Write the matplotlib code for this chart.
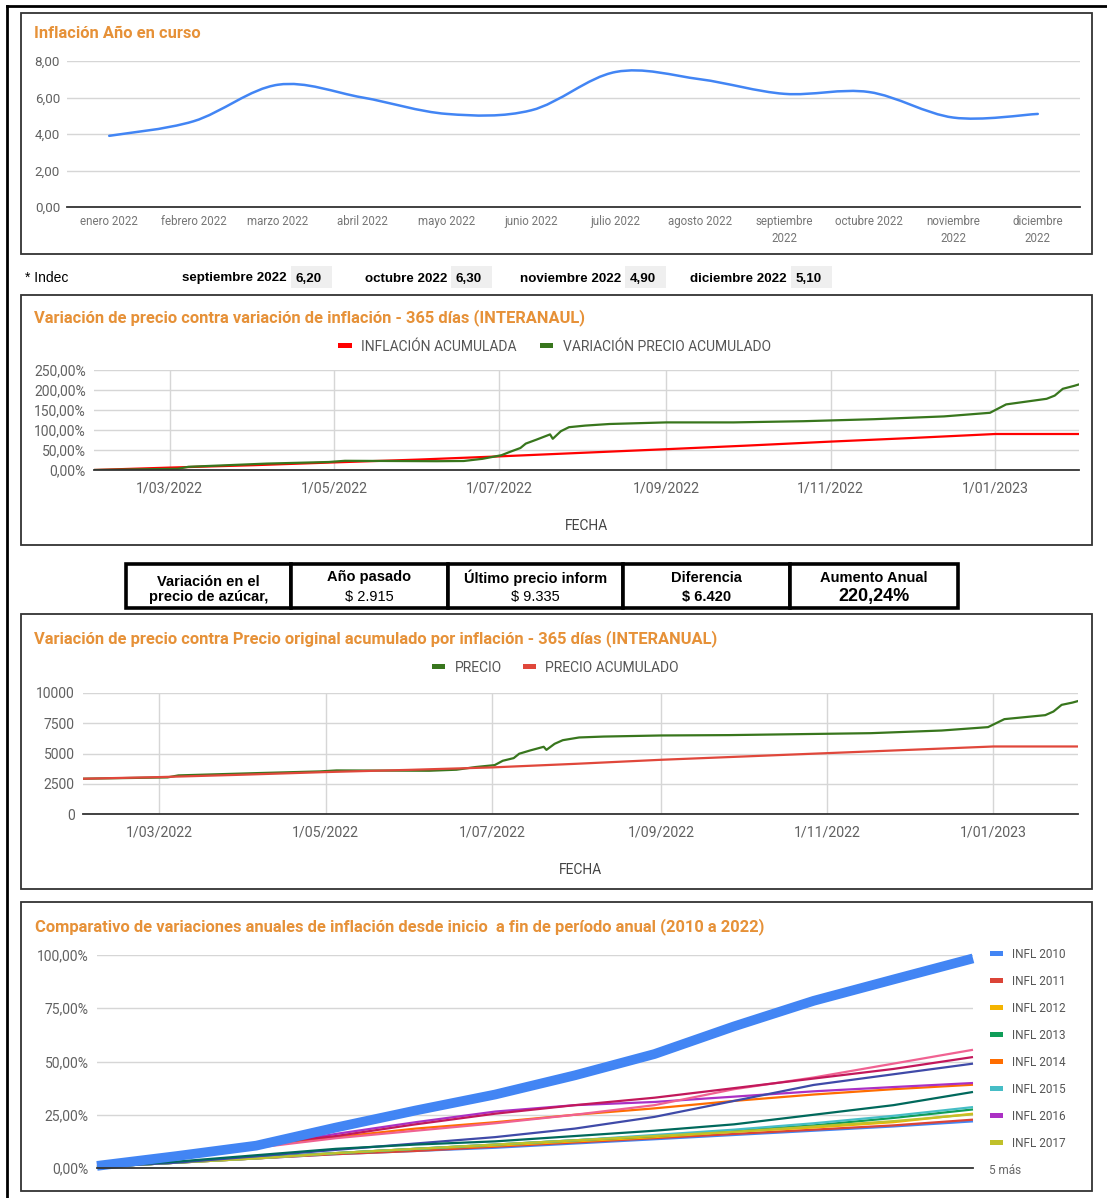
import numpy as np
import matplotlib
matplotlib.use("Agg")
import matplotlib.pyplot as plt
from matplotlib.patches import Rectangle, PathPatch
from matplotlib.path import Path

plt.rcParams['font.family'] = ['Roboto', 'DejaVu Sans']

W, H = 1107, 1198

# ---------------- datos ----------------
# inflacion mensual 2022
meses = ['enero 2022', 'febrero 2022', 'marzo 2022', 'abril 2022', 'mayo 2022', 'junio 2022',
         'julio 2022', 'agosto 2022', 'septiembre\n2022', 'octubre 2022', 'noviembre\n2022',
         'diciembre\n2022']
inflacion_mensual = [3.9, 4.7, 6.7, 6.0, 5.1, 5.3, 7.4, 7.0, 6.2, 6.3, 4.9, 5.1]
ticks_mensual = [0, 2, 4, 6, 8]

# fila Indec
indec_meses = ['septiembre 2022', 'octubre 2022', 'noviembre 2022', 'diciembre 2022']
indec_valores = ['6,20', '6,30', '4,90', '5,10']

# inflacion acumulada (inicio de cada mes)
fechas_mes = ['2022-02-01', '2022-03-01', '2022-04-01', '2022-05-01', '2022-06-01', '2022-07-01',
              '2022-08-01', '2022-09-01', '2022-10-01', '2022-11-01', '2022-12-01', '2023-01-01',
              '2023-02-01']
inflacion_acum = [0, 6, 12, 19, 26, 34, 43, 52, 61, 71, 80, 90, 90]
precio_acum = [2915, 3050, 3250, 3465, 3650, 3850, 4150, 4480, 4750, 5030, 5300, 5580, 5580]

# precio relevado
fechas_precio = ['2022-02-01', '2022-03-04', '2022-03-08', '2022-04-06', '2022-04-29', '2022-05-05',
                 '2022-06-08', '2022-06-18', '2022-06-25', '2022-07-02', '2022-07-05', '2022-07-09',
                 '2022-07-11', '2022-07-15', '2022-07-20', '2022-07-21', '2022-07-24', '2022-07-27',
                 '2022-08-02', '2022-08-11', '2022-09-01', '2022-09-26', '2022-10-22', '2022-11-17',
                 '2022-12-13', '2022-12-30', '2023-01-05', '2023-01-20', '2023-01-23', '2023-01-26',
                 '2023-01-30', '2023-02-01']
variacion_precio = [0, 3, 8, 16, 20, 23, 22, 22.5, 28, 37, 45, 55, 66, 76, 89, 78, 97, 107,
                    111, 115, 119, 119, 122, 127, 134, 143, 164, 178, 186, 203, 210, 214]
precio = [2915, 3025, 3190, 3380, 3520, 3600, 3575, 3660, 3880, 4040, 4400, 4620, 4980, 5250,
          5555, 5300, 5800, 6100, 6325, 6400, 6490, 6520, 6600, 6680, 6900, 7180, 7840, 8170,
          8470, 9020, 9210, 9335]

fecha_ticks = ['2022-03-01', '2022-05-01', '2022-07-01', '2022-09-01', '2022-11-01', '2023-01-01']
fecha_labels = ['1/03/2022', '1/05/2022', '1/07/2022', '1/09/2022', '1/11/2022', '1/01/2023']
ticks_pct = [0, 50, 100, 150, 200, 250]
ticks_precio = [0, 2500, 5000, 7500, 10000]

# tabla resumen
tabla_titulos = ['Variación en el\nprecio de azúcar,', 'Año pasado', 'Último precio inform',
                 'Diferencia', 'Aumento Anual']
tabla_valores = ['', '$ 2.915', '$ 9.335', '$ 6.420', '220,24%']

# comparativo anual (acumulado mes a mes)
infl_2010 = [0.5, 2.5, 4.5, 6.5, 8.0, 9.5, 11.5, 13.5, 15.5, 17.5, 19.5, 21.9]
infl_2011 = [0.5, 2.5, 4.5, 6.5, 8.0, 10.0, 12.0, 14.0, 16.0, 18.0, 20.0, 22.7]
infl_2012 = [0.5, 2.5, 4.5, 7.0, 9.0, 10.5, 12.5, 14.5, 17.0, 19.0, 21.5, 25.5]
infl_2013 = [0.5, 2.5, 5.0, 7.0, 9.0, 11.0, 13.0, 15.0, 17.5, 20.0, 23.5, 27.5]
infl_2014 = [1.0, 5.0, 10.0, 14.5, 18.5, 21.5, 25.0, 28.0, 31.5, 34.5, 37.0, 39.1]
infl_2015 = [0.5, 2.5, 4.5, 7.0, 9.0, 11.0, 13.0, 15.5, 18.0, 21.0, 24.5, 28.6]
infl_2016 = [1.0, 5.0, 10.0, 16.0, 21.5, 26.5, 29.5, 31.0, 33.5, 36.0, 38.0, 39.9]
infl_2017 = [0.5, 2.5, 4.5, 7.0, 9.0, 11.0, 13.0, 15.0, 17.0, 19.5, 22.0, 25.2]
infl_2018 = [0.5, 2.5, 5.5, 8.5, 11.5, 14.5, 18.5, 24.0, 31.5, 39.0, 44.0, 49.0]
infl_2019 = [2.0, 5.5, 9.5, 14.0, 17.5, 21.0, 25.0, 29.5, 37.0, 42.5, 49.0, 55.5]
infl_2020 = [0.5, 3.0, 6.0, 9.0, 11.0, 12.5, 15.0, 17.5, 20.5, 25.0, 29.5, 35.7]
infl_2021 = [2.0, 6.0, 11.0, 15.0, 20.5, 25.5, 29.5, 33.0, 37.5, 42.0, 46.5, 52.1]
infl_2022 = [1.0, 5.6, 10.5, 19.0, 27.0, 34.5, 43.5, 53.5, 66.5, 78.5, 88.5, 98.4]
anios = ['INFL 2010', 'INFL 2011', 'INFL 2012', 'INFL 2013', 'INFL 2014', 'INFL 2015',
         'INFL 2016', 'INFL 2017', 'INFL 2018', 'INFL 2019', 'INFL 2020', 'INFL 2021', 'INFL 2022']
colores_anios = ['#4285F4', '#DB4437', '#F4B400', '#0F9D58', '#FF6D00', '#46BDC6', '#AB30C4',
                 '#C0C02A', '#3F4AA8', '#F06292', '#00695C', '#C2185B', '#4285F4']
ticks_anual = [0, 25, 50, 75, 100]

NARANJA = '#E69138'
GRIS_TXT = '#616161'
GRILLA = '#D6D6D6'


# ---------------- utilidades en pixeles ----------------
fig = plt.figure(figsize=(W / 100, H / 100), dpi=100)


def ejes(x0, y0, x1, y1):
    return fig.add_axes([x0 / W, 1 - y1 / H, (x1 - x0) / W, (y1 - y0) / H])


def texto(x, y, s, **kw):
    kw.setdefault('va', 'center')
    if kw['va'] == 'center':
        y = y + 1.5
    return fig.text(x / W, 1 - y / H, s, **kw)


def titulo(x, y, s):
    # y = centro visual de las mayusculas
    fig.text(x / W, 1 - (y + 5.5) / H, s, va='baseline', color=NARANJA, fontsize=11.9,
             fontweight='bold')


def caja(x0, y0, x1, y1, **kw):
    fig.add_artist(Rectangle((x0 / W, 1 - y1 / H), (x1 - x0) / W, (y1 - y0) / H,
                             transform=fig.transFigure, **kw))


def linea(x0, y0, x1, y1, **kw):
    fig.add_artist(plt.Line2D([x0 / W, x1 / W], [1 - y0 / H, 1 - y1 / H],
                              transform=fig.transFigure, **kw))


def panel(y0, y1):
    caja(21, y0, 1092, y1, fill=False, edgecolor='#333333', linewidth=1.3)


def estilo_ejes(ax, grilla_x=False):
    for lado in ['top', 'right', 'left']:
        ax.spines[lado].set_visible(False)
    ax.spines['bottom'].set_color('#333333')
    ax.spines['bottom'].set_linewidth(1.3)
    ax.spines['bottom'].set_zorder(5)
    ax.grid(True, axis='y', color=GRILLA, linewidth=1)
    if grilla_x:
        ax.grid(True, axis='x', color=GRILLA, linewidth=1)
    ax.set_axisbelow(True)
    ax.tick_params(length=0, labelcolor=GRIS_TXT)


def coma(v, dec=2, suf=''):
    return f'{v:.{dec}f}'.replace('.', ',') + suf


def curva_suave(xs, ys):
    pts = np.column_stack([xs, ys]).astype(float)
    verts = [pts[0]]
    codes = [Path.MOVETO]
    n = len(pts)
    for i in range(n - 1):
        p0 = pts[i - 1] if i > 0 else pts[i]
        p1 = pts[i]
        p2 = pts[i + 1]
        p3 = pts[i + 2] if i + 2 < n else pts[i + 1]
        verts += [p1 + (p2 - p0) / 6, p2 - (p3 - p1) / 6, p2]
        codes += [Path.CURVE4] * 3
    return Path(verts, codes)


# marco exterior
linea(7, 6, W, 6, color='black', linewidth=2)
linea(7, 6, 7, H, color='black', linewidth=2)

# ---------------- panel 1: inflacion mensual ----------------
panel(13, 254)
titulo(34, 33, 'Inflación Año en curso')
ax1 = ejes(67, 61, 1080, 207)
estilo_ejes(ax1)
x_mes = np.arange(len(meses))
ax1.add_patch(PathPatch(curva_suave(x_mes, inflacion_mensual), fill=False,
                        edgecolor='#4285F4', linewidth=1.8, capstyle='round'))
ax1.set_xlim(-0.5, len(meses) - 0.5)
ax1.set_ylim(0, 8)
ax1.set_yticks(ticks_mensual)
ax1.set_yticklabels([coma(v) for v in ticks_mensual], fontsize=9.6)
ax1.set_xticks(x_mes)
ax1.set_xticklabels(meses, fontsize=8.3, color='#757575', linespacing=1.35)
ax1.tick_params(axis='y', pad=5)
ax1.tick_params(axis='x', pad=6)

# fila Indec
fam_arial = ['Liberation Sans', 'DejaVu Sans']
texto(25, 277, '* Indec', fontsize=10, family=fam_arial)
etiq_x = [287, 447, 621, 787]
for mes, val, xe in zip(indec_meses, indec_valores, etiq_x):
    texto(xe, 277, mes, ha='right', fontsize=9.6, fontweight='bold', family=fam_arial)
    caja(xe + 4, 266, xe + 45, 288, facecolor='#EFEFEF', edgecolor='none')
    texto(xe + 9, 277, val, fontsize=9.6, fontweight='bold', family=fam_arial)

# ---------------- panel 2: variacion porcentual ----------------
panel(295, 545)
titulo(34, 317, 'Variación de precio contra variación de inflación - 365 días (INTERANAUL)')
caja(338, 343, 352, 348, facecolor='#FF0000', edgecolor='none')
texto(361, 345, 'INFLACIÓN ACUMULADA', color='#555555', fontsize=10)
caja(540, 343, 553, 348, facecolor='#38761D', edgecolor='none')
texto(563, 345, 'VARIACIÓN PRECIO ACUMULADO', color='#555555', fontsize=10)

ax2 = ejes(94, 370, 1079, 470)
estilo_ejes(ax2, grilla_x=True)
ax2.plot(np.array(fechas_mes, dtype='datetime64[D]'), inflacion_acum, color='#FF0000',
         linewidth=1.6)
ax2.plot(np.array(fechas_precio, dtype='datetime64[D]'), variacion_precio, color='#38761D',
         linewidth=1.6)
ax2.set_xlim(np.datetime64('2022-02-01'), np.datetime64('2023-02-01'))
ax2.set_ylim(0, 250)
ax2.set_yticks(ticks_pct)
ax2.set_yticklabels([coma(v, 2, '%') for v in ticks_pct], fontsize=10)
ax2.set_xticks(np.array(fecha_ticks, dtype='datetime64[D]'))
ax2.set_xticklabels(fecha_labels, fontsize=10.2)
ax2.tick_params(axis='y', pad=6)
ax2.tick_params(axis='x', pad=8.5)
texto(586, 525, 'FECHA', ha='center', color='#444444', fontsize=10)

# ---------------- tabla ----------------
bordes_tabla = [126, 291, 448, 623, 790, 958]
fam_narrow = ['Liberation Sans Narrow', 'Liberation Sans', 'DejaVu Sans']
for i, (tit, val) in enumerate(zip(tabla_titulos, tabla_valores)):
    x0, x1 = bordes_tabla[i], bordes_tabla[i + 1]
    xc = (x0 + x1) / 2
    caja(x0, 564, x1, 608, facecolor='white', edgecolor='black', linewidth=2.6)
    if i == 0:
        texto(xc, 588, tit, ha='center', fontsize=10.5, fontweight='bold', family=fam_narrow,
              linespacing=1.15)
        continue
    texto(xc, 576, tit, ha='center', fontsize=10.5, fontweight='bold', family=fam_narrow)
    if i == 4:
        texto(xc, 595, val, ha='center', fontsize=13, fontweight='bold', family=fam_narrow)
    else:
        texto(xc, 596, val, ha='center', fontsize=10.5, family=fam_narrow,
              fontweight='bold' if i == 3 else 'normal')

# ---------------- panel 3: precio ----------------
panel(614, 889)
titulo(34, 638, 'Variación de precio contra Precio original acumulado por inflación - 365 días (INTERANUAL)')
caja(432, 664, 445, 669, facecolor='#38761D', edgecolor='none')
texto(455, 667, 'PRECIO', color='#555555', fontsize=10)
caja(523, 664, 536, 669, facecolor='#E0473B', edgecolor='none')
texto(545, 667, 'PRECIO ACUMULADO', color='#555555', fontsize=10)

ax3 = ejes(83, 693, 1078, 814)
estilo_ejes(ax3, grilla_x=True)
ax3.plot(np.array(fechas_precio, dtype='datetime64[D]'), precio, color='#38761D', linewidth=1.6)
ax3.plot(np.array(fechas_mes, dtype='datetime64[D]'), precio_acum, color='#E0473B',
         linewidth=1.6)
ax3.set_xlim(np.datetime64('2022-02-01'), np.datetime64('2023-02-01'))
ax3.set_ylim(0, 10000)
ax3.set_yticks(ticks_precio)
ax3.set_yticklabels([str(v) for v in ticks_precio], fontsize=10)
ax3.set_xticks(np.array(fecha_ticks, dtype='datetime64[D]'))
ax3.set_xticklabels(fecha_labels, fontsize=10.2)
ax3.tick_params(axis='y', pad=6)
ax3.tick_params(axis='x', pad=8)
texto(580, 869, 'FECHA', ha='center', color='#444444', fontsize=10)

# ---------------- panel 4: comparativo anual ----------------
panel(902, 1191)
titulo(35, 926, 'Comparativo de variaciones anuales de inflación desde inicio  a fin de período anual (2010 a 2022)')
ax4 = ejes(97, 955, 973, 1168)
estilo_ejes(ax4)
series = [infl_2010, infl_2011, infl_2012, infl_2013, infl_2014, infl_2015, infl_2016,
          infl_2017, infl_2018, infl_2019, infl_2020, infl_2021, infl_2022]
x_anual = np.arange(len(infl_2010))
for nombre, serie, col in zip(anios, series, colores_anios):
    grueso = nombre == 'INFL 2022'
    ax4.plot(x_anual, serie, color=col, linewidth=7 if grueso else 1.6,
             solid_capstyle='butt', clip_on=False, zorder=4 if grueso else 3)
ax4.set_xlim(0, len(infl_2010) - 1)
ax4.set_ylim(0, 100)
ax4.set_xticks([])
ax4.set_yticks(ticks_anual)
ax4.set_yticklabels([coma(v, 2, '%') for v in ticks_anual], fontsize=10)
ax4.tick_params(axis='y', pad=6)

for i in range(8):
    y = 953 + 27 * i
    caja(990, y - 2.5, 1003, y + 2.5, facecolor=colores_anios[i], edgecolor='none')
    texto(1012, y, anios[i], color='#555555', fontsize=8.5)
texto(989, 1169, '5 más', color='#666666', fontsize=8.5)

fig.savefig('out.png', dpi=100)
